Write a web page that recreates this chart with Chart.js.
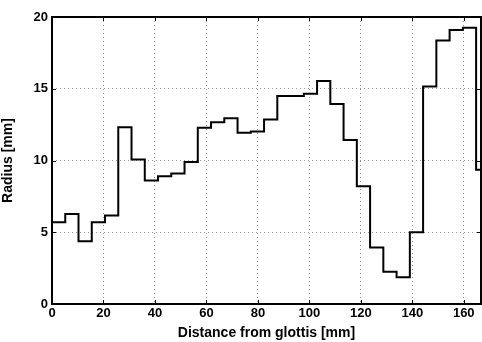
<!DOCTYPE html>
<html>
<head>
<meta charset="utf-8">
<script src="https://cdn.jsdelivr.net/npm/chart.js@4.4.0/dist/chart.umd.min.js"></script>
<style>
  html, body { margin: 0; padding: 0; background: #fff; }
  #wrap { width: 482px; height: 342px; }
</style>
</head>
<body>
<div id="wrap"><canvas id="area-chart"></canvas></div>
<script>
// section start positions along the tract [mm]
const sectionStart = [0, 5.15, 10.3, 15.45, 20.6, 25.75, 30.9, 36.05, 41.2, 46.35, 51.5,
    56.65, 61.8, 66.95, 72.1, 77.25, 82.4, 87.55, 92.7, 97.85, 103.0, 108.15,
    113.3, 118.45, 123.6, 128.75, 133.9, 139.05, 144.2, 149.35, 154.5, 159.65, 164.8];
// radius of each section [mm]
const radius = [5.7, 6.28, 4.37, 5.7, 6.16, 12.32, 10.07, 8.6, 8.9, 9.09, 9.9,
    12.28, 12.67, 12.95, 11.93, 12.02, 12.86, 14.49, 14.5, 14.65, 15.54, 13.93,
    11.42, 8.21, 3.93, 2.25, 1.86, 5.0, 15.16, 18.37, 19.1, 19.25, 9.35];
const tractEnd = 169.95;
const xTicks = [0, 20, 40, 60, 80, 100, 120, 140, 160];
const yTicks = [0, 5, 10, 15, 20];

const points = sectionStart.map((x, i) => ({x: x, y: radius[i]}));
points.push({x: tractEnd, y: radius[radius.length - 1]});

const font = {family: 'Liberation Sans, Arial, sans-serif', size: 13, weight: 'bold'};
const titleFont = {family: 'Liberation Sans, Arial, sans-serif', size: 14, weight: 'bold'};

const frame = {
    id: 'frame',
    afterDraw(chart) {
        const ctx = chart.ctx, a = chart.chartArea;
        const sx = chart.scales.x, sy = chart.scales.y;
        ctx.save();
        ctx.strokeStyle = '#000';
        ctx.lineWidth = 1;
        ctx.beginPath();
        xTicks.forEach(v => {
            const p = Math.round(sx.getPixelForValue(v)) + 0.5;
            ctx.moveTo(p, a.bottom); ctx.lineTo(p, a.bottom - 4);
            ctx.moveTo(p, a.top); ctx.lineTo(p, a.top + 4);
        });
        yTicks.forEach(v => {
            const p = Math.round(sy.getPixelForValue(v)) + 0.5;
            ctx.moveTo(a.left, p); ctx.lineTo(a.left + 4, p);
            ctx.moveTo(a.right, p); ctx.lineTo(a.right - 4, p);
        });
        ctx.stroke();
        ctx.lineWidth = 2;
        ctx.strokeRect(a.left, a.top, a.right - a.left, a.bottom - a.top);
        ctx.restore();
    }
};

new Chart(document.getElementById('area-chart'), {
    type: 'line',
    data: {
        datasets: [{
            data: points,
            stepped: 'before',
            borderColor: '#000',
            borderWidth: 2,
            pointRadius: 0,
            fill: false
        }]
    },
    options: {
        responsive: true,
        maintainAspectRatio: false,
        animation: false,
        layout: { padding: { top: 17, right: 1, left: 0, bottom: 0 } },
        plugins: { legend: { display: false }, tooltip: { enabled: false } },
        scales: {
            x: {
                type: 'linear',
                min: 0,
                max: 166.7,
                afterBuildTicks: s => { s.ticks = xTicks.map(v => ({value: v})); },
                afterFit: s => { s.height = 38; },
                grid: { color: '#999', drawTicks: false, lineWidth: 1 },
                border: { display: false, dash: [1, 3] },
                ticks: { color: '#000', font: font, padding: 2, maxRotation: 0 },
                title: { display: true, text: 'Distance from glottis [mm]', color: '#000', font: titleFont, padding: {top: 0, bottom: 0} }
            },
            y: {
                min: 0,
                max: 20,
                afterBuildTicks: s => { s.ticks = yTicks.map(v => ({value: v})); },
                afterFit: s => { s.width = 52; },
                grid: { color: '#999', drawTicks: false, lineWidth: 1 },
                border: { display: false, dash: [1, 3] },
                ticks: { color: '#000', font: font, padding: 4 },
                title: { display: true, text: 'Radius [mm]', color: '#000', font: titleFont, padding: {top: 0, bottom: 3} }
            }
        }
    },
    plugins: [frame]
});
</script>
</body>
</html>
